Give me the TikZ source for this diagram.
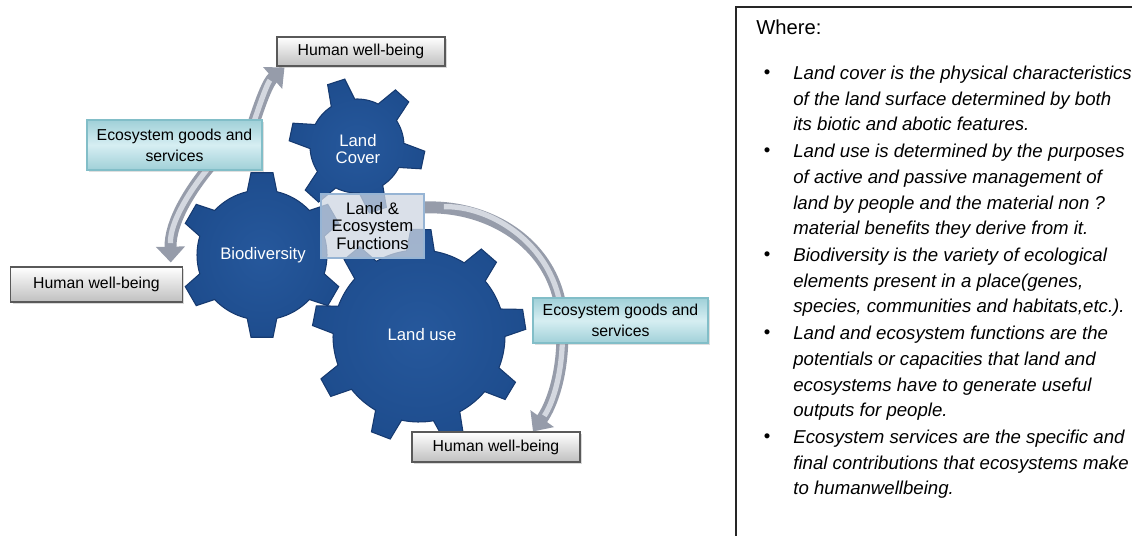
\documentclass[tikz,border=0pt]{standalone}
\usepackage{fontspec}
\setmainfont{Liberation Sans}
\usetikzlibrary{arrows.meta}
\usetikzlibrary{shadows}
\usetikzlibrary{calc}
\definecolor{gearblue}{RGB}{30,77,142}
\definecolor{gearlight}{RGB}{38,88,156}
\definecolor{gearedge}{RGB}{22,58,112}
\definecolor{flowgray}{RGB}{150,156,170}
\definecolor{flowlight}{RGB}{212,216,224}
\definecolor{tealdark}{RGB}{160,208,216}
\definecolor{teallight}{RGB}{214,238,242}
\definecolor{tealedge}{RGB}{130,190,200}
\definecolor{lefgray}{RGB}{205,214,226}
\definecolor{lefedge}{RGB}{150,180,212}
\pgfdeclarelayer{flows}
\pgfsetlayers{flows,main}
\newcommand\cog[8]{

  \shade[inner color=gearlight, outer color=gearblue, draw=gearedge, line width=0.6pt, shift={(#1,#2)}]
    ({#6-#7}:#4) \foreach \k in {1,...,#3} {
      -- ({#6+(\k-1)*360/#3-#8}:#5) -- ({#6+(\k-1)*360/#3+#8}:#5) -- ({#6+(\k-1)*360/#3+#7}:#4)
      arc[start angle={#6+(\k-1)*360/#3+#7}, end angle={#6+\k*360/#3-#7}, radius=#4]
    } -- cycle;
}
\tikzset{
  gearlabel/.style={text=white, align=center, inner sep=0pt, font=\fontsize{9.5}{10}\selectfont},
  hwb/.style={rectangle, draw=gray!70!black, line width=0.6pt, top color=white, bottom color=gray!50, inner sep=0pt, font=\fontsize{9}{10}\selectfont, drop shadow={opacity=.3, shadow xshift=1pt, shadow yshift=-1pt}},
  egs/.style={rectangle, draw=tealedge, line width=0.6pt, top color=tealdark, bottom color=tealdark, middle color=teallight, inner sep=0pt, align=center, font=\fontsize{9}{12}\selectfont, drop shadow={opacity=.25, shadow xshift=1pt, shadow yshift=-1pt}},
  lefbox/.style={rectangle, draw=lefedge, line width=0.6pt, fill=lefgray, fill opacity=.75, text opacity=1, inner sep=0pt, align=center, font=\fontsize{9.5}{10.2}\selectfont},
  flow/.style={line width=6.8pt, draw=flowgray, postaction={draw=flowlight, line width=3pt, arrows=-, shorten <=11pt, shorten >=11pt}},
  itemtext/.style={anchor=base west, align=left, inner sep=0pt, font=\fontsize{10.6}{14.74}\selectfont\itshape},
  dot/.style={anchor=base, inner sep=0pt, font=\fontsize{10.6}{12}\selectfont}
}
\begin{document}
\begin{tikzpicture}[x=0.02cm, y=-0.02cm]
\useasboundingbox (0,0) rectangle (1132,536);

% gears
\cog{357}{146}{6}{47}{68}{12}{15.2}{7.6}
\cog{262}{255}{6}{65}{83}{30}{13.2}{7.6}
\cog{419}{336}{9}{86}{107}{-9}{9.3}{5.4}

\node[gearlabel] (landcover) at (358,149) {Land\\Cover};
\node[gearlabel] (biodiv) at (263,255) {Biodiversity};
\node[gearlabel] (landuse) at (422,335) {Land use};

\node[lefbox, minimum width=2.06cm, minimum height=1.28cm] (lef) at (372.5,226) {Land \&\\Ecosystem\\Functions};

\node[egs, minimum width=3.5cm, minimum height=1.0cm] (egsL) at (174.5,145) {Ecosystem goods and\\services};
\node[egs, minimum width=3.5cm, minimum height=0.9cm] (egsR) at (620.5,320.5) {Ecosystem goods and\\services};

\node[hwb, minimum width=3.36cm, minimum height=0.58cm] (hwbT) at (361,51.5) {Human well-being};
\node[hwb, minimum width=3.43cm, minimum height=0.7cm] (hwbL) at (96.5,284.5) {Human well-being};
\node[hwb, minimum width=3.36cm, minimum height=0.6cm] (hwbB) at (496,447) {Human well-being};

\begin{pgfonlayer}{flows}
\draw[flow, {Triangle[width=16pt,length=9pt]}-{Triangle[width=16pt,length=9pt]}] ($(hwbT.south west)+(8,1)$) .. controls (268,82) and (261,100) .. (252,128) .. controls (240,150) and (222,152) .. (210,166) .. controls (190,190) and (170,222) .. ($(hwbL.north east)+(-12,-4)$);
\draw[flow, -{Triangle[width=16pt,length=9pt]}] ($(lef.north east)+(0,14)$) .. controls (490,205) and (558,245) .. (562,320) .. controls (565,370) and (552,405) .. ($(hwbB.north)+(37,0)$);
\end{pgfonlayer}

% text frame
\draw[line width=1.2pt, black!85] (1140,7) -- (736,7) -- (736,545);
\node[anchor=base west, inner sep=0pt, font=\fontsize{11.5}{13}\selectfont] (where) at (756,35) {Where:};

% items are placed at the baseline of their last line
\node[dot] (b1) at (767,79) {\textbullet};
\node[itemtext] (i1) at (793,131) {Land cover is the physical characteristics\\of the land surface determined by both\\its biotic and abotic features.};
\node[dot] (b2) at (767,157) {\textbullet};
\node[itemtext] (i2) at (793,235) {Land use is determined by the purposes\\of active and passive management of\\land by people and the material non ?\\material benefits they derive from it.};
\node[dot] (b3) at (767,261) {\textbullet};
\node[itemtext] (i3) at (793,313) {Biodiversity is the variety of ecological\\elements present in a place(genes,\\species, communities and habitats,etc.).};
\node[dot] (b4) at (767,339) {\textbullet};
\node[itemtext] (i4) at (793,417) {Land and ecosystem functions are the\\potentials or capacities that land and\\ecosystems have to generate useful\\outputs for people.};
\node[dot] (b5) at (767,443) {\textbullet};
\node[itemtext] (i5) at (793,495) {Ecosystem services are the specific and\\final contributions that ecosystems make\\to humanwellbeing.};

\end{tikzpicture}
\end{document}
